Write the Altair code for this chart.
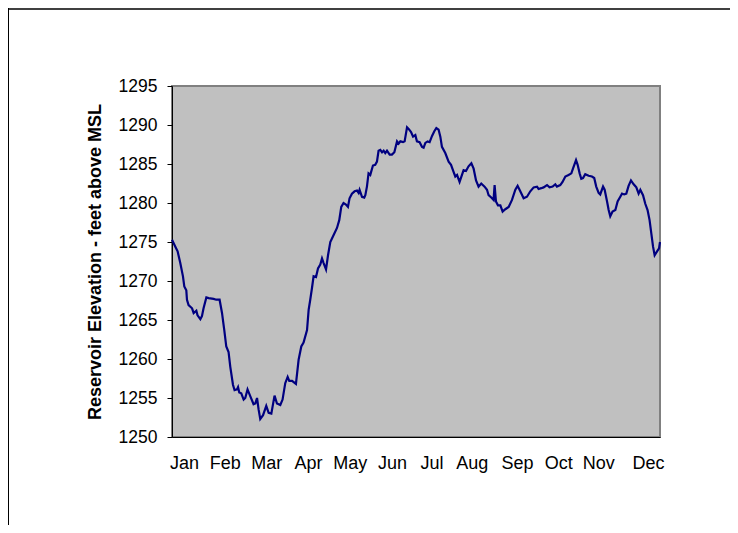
import altair as alt
import pandas as pd

# Day-of-year positions and reservoir elevations (feet above MSL)
days = [0, 2.5, 4.2, 6.2, 8.2, 9.2, 10.7, 11.2, 12.4, 15.0, 16.2, 18.2, 19.1, 21.2, 22.4, 23.6,
        25.7, 27.4, 31.1, 33.1, 35.6, 37.4, 39.1, 40.6, 42.3, 43.6, 45.6, 46.8, 48.6, 49.4, 50.3,
        51.8, 53.6, 54.8, 56.5, 58.6, 61.0, 62.3, 63.6, 64.8, 66.0, 68.1, 70.5, 72.3, 74.3, 76.7,
        78.5, 81.0, 82.7, 84.7, 86.5, 87.7, 89.8, 92.7, 94.7, 96.7, 98.4, 101.0, 102.2, 103.4,
        104.7, 105.9, 107.7, 109.2, 110.9, 112.2, 113.4, 115.2, 116.7, 118.4, 120.9, 123.4, 125.1,
        126.6, 128.3, 130.1, 131.6, 132.8, 134.6, 136.6, 138.4, 139.6, 140.3, 142.1, 143.8, 144.6,
        145.8, 147.0, 148.3, 150.3, 152.0, 153.3, 154.5, 155.8, 157.1, 158.3, 159.5, 160.8, 162.8,
        164.5, 166.3, 168.3, 169.5, 170.8, 172.8, 174.0, 175.8, 177.0, 178.8, 180.3, 182.0, 183.2,
        185.2, 187.0, 188.2, 189.5, 191.2, 192.7, 194.5, 196.2, 197.7, 199.4, 200.7, 201.9, 204.4,
        206.9, 208.7, 210.6, 211.9, 213.2, 215.1, 218.1, 219.9, 221.8, 223.9, 225.6, 227.4, 229.3,
        231.3, 233.8, 235.6, 236.8, 238.8, 240.5, 241.3, 242.3, 243.8, 245.6, 247.3, 249.3, 251.8,
        254.3, 256.8, 258.5, 260.5, 263.0, 265.5, 268.0, 270.5, 273.0, 274.2, 276.2, 277.9, 280.5,
        282.4, 284.7, 286.7, 287.9, 290.4, 292.1, 294.2, 296.6, 298.7, 299.9, 302.2, 303.4, 304.9,
        306.1, 307.4, 309.1, 311.6, 314.1, 315.8, 317.3, 319.1, 320.3, 322.4, 323.6, 325.4, 326.6,
        327.8, 329.5, 331.6, 333.3, 335.3, 336.6, 338.3, 339.8, 341.5, 343.3, 345.3, 347.3, 349.0,
        350.3, 352.3, 354.0, 355.7, 357.2, 358.5, 359.8, 361.0, 362.8, 364.3, 365.0]
elevation = [1275.3, 1274.4, 1273.8, 1272.3, 1270.6, 1269.3, 1268.8, 1267.6, 1266.9, 1266.5, 1265.9,
             1266.2, 1265.6, 1265.1, 1265.5, 1266.5, 1267.9, 1267.8, 1267.7, 1267.6, 1267.6, 1265.9,
             1263.7, 1261.6, 1260.9, 1259.0, 1256.7, 1256.0, 1256.1, 1256.4, 1255.7, 1255.6, 1254.8,
             1255.0, 1256.1, 1255.2, 1254.2, 1254.3, 1255.0, 1253.5, 1252.3, 1252.8, 1254.0, 1253.1,
             1253.0, 1255.3, 1254.3, 1254.1, 1254.8, 1256.9, 1257.7, 1257.2, 1257.2, 1256.8, 1259.9,
             1261.6, 1262.1, 1263.7, 1266.3, 1267.6, 1269.1, 1270.6, 1270.5, 1271.6, 1272.1, 1272.9,
             1272.3, 1271.5, 1273.3, 1275.0, 1275.9, 1276.8, 1277.8, 1279.5, 1280.0, 1279.8, 1279.5,
             1280.6, 1281.2, 1281.5, 1281.6, 1281.3, 1281.7, 1280.8, 1280.7, 1281.0, 1282.1, 1283.8,
             1283.6, 1284.8, 1284.9, 1285.3, 1286.7, 1286.8, 1286.5, 1286.7, 1286.4, 1286.7, 1286.2,
             1286.2, 1286.5, 1287.9, 1287.6, 1287.9, 1287.8, 1287.9, 1289.7, 1289.5, 1289.1, 1288.5,
             1288.7, 1287.9, 1287.8, 1287.2, 1287.1, 1287.7, 1287.9, 1287.8, 1288.6, 1289.2, 1289.6,
             1289.4, 1288.5, 1287.2, 1286.4, 1285.3, 1284.9, 1284.0, 1283.4, 1283.6, 1282.7, 1284.2,
             1284.1, 1284.7, 1285.1, 1284.4, 1282.9, 1282.1, 1282.5, 1282.1, 1281.7, 1281.0, 1280.7,
             1280.4, 1282.3, 1280.2, 1279.7, 1279.7, 1278.9, 1279.2, 1279.5, 1280.4, 1281.7, 1282.2,
             1281.5, 1280.6, 1280.8, 1281.5, 1282.0, 1282.1, 1281.8, 1281.9, 1282.0, 1282.3, 1282.0,
             1282.1, 1282.4, 1282.1, 1282.3, 1282.7, 1283.4, 1283.6, 1283.8, 1284.4, 1285.5, 1284.9,
             1283.8, 1283.1, 1283.2, 1283.7, 1283.5, 1283.4, 1283.2, 1282.1, 1281.3, 1281.1, 1282.1,
             1281.7, 1280.2, 1279.1, 1278.3, 1278.9, 1279.1, 1280.2, 1280.8, 1281.2, 1281.1, 1281.2,
             1282.2, 1282.9, 1282.4, 1282.0, 1281.2, 1281.7, 1281.0, 1279.9, 1279.1, 1277.8, 1276.1,
             1274.4, 1273.3, 1273.8, 1274.2, 1275.0]

# Month label positions (day of year) and names
month_days = [9.0, 39.5, 70.5, 101.8, 133.0, 164.5, 194.0, 224.2, 258.1, 288.9, 318.8, 356.0]
month_names = ["Jan", "Feb", "Mar", "Apr", "May", "Jun", "Jul", "Aug", "Sep", "Oct", "Nov", "Dec"]
y_ticks = [1250, 1255, 1260, 1265, 1270, 1275, 1280, 1285, 1290, 1295]

df = pd.DataFrame({"day": days, "elev": elevation})

label_expr = ""
for d, n in zip(month_days, month_names):
    label_expr += f"datum.value == {d} ? '{n}' : "
label_expr += "''"

TOTAL_W, TOTAL_H = 722, 517
W, H = 488, 351
PL, PT = 164, 78

line = alt.Chart(df).mark_line(color="#000080", strokeWidth=2.2).encode(
    x=alt.X("day:Q",
            scale=alt.Scale(domain=[0, 365], nice=False, zero=False),
            axis=alt.Axis(values=month_days, labelExpr=label_expr, ticks=False, grid=False,
                          title=None, domainColor="#000000", domainWidth=1,
                          labelFont="Liberation Sans", labelFontSize=18, labelColor="#000000",
                          labelPadding=17, labelBaseline="top", labelFlush=False,
                          labelOverlap=False)),
    y=alt.Y("elev:Q",
            scale=alt.Scale(domain=[1250, 1295], nice=False, zero=False),
            axis=alt.Axis(values=y_ticks, grid=False, tickSize=5, tickColor="#000000",
                          domainColor="#000000", domainWidth=1, format="d",
                          labelFont="Liberation Sans", labelFontSize=17.5, labelColor="#000000",
                          labelPadding=10,
                          title="Reservoir Elevation - feet above MSL",
                          titleFont="Liberation Sans", titleFontSize=18, titleFontWeight="bold",
                          titleColor="#000000", titleAngle=270, titleX=-77, titleY=H / 2,
                          titleAlign="center", titleBaseline="middle")),
)

frame_df = pd.DataFrame({"k": [0]})
frame_left = alt.Chart(frame_df).mark_rule(color="#000000", strokeWidth=1).encode(
    x=alt.value(-PL + 0.5), y=alt.value(-PT), y2=alt.value(TOTAL_H - PT))
frame_top = alt.Chart(frame_df).mark_rule(color="#000000", strokeWidth=1.5).encode(
    x=alt.value(-PL), x2=alt.value(TOTAL_W - PL), y=alt.value(-PT + 1))

chart = alt.layer(line, frame_left, frame_top).properties(
    width=W, height=H,
    autosize=alt.AutoSizeParams(type="none"),
    padding={"left": PL, "top": PT, "right": TOTAL_W - PL - W, "bottom": TOTAL_H - PT - H},
    background="#FFFFFF",
).configure_view(
    fill="#C0C0C0", stroke="#808080", strokeWidth=2
)

chart.save("out.html", embed_options={"renderer": "svg", "actions": False})
